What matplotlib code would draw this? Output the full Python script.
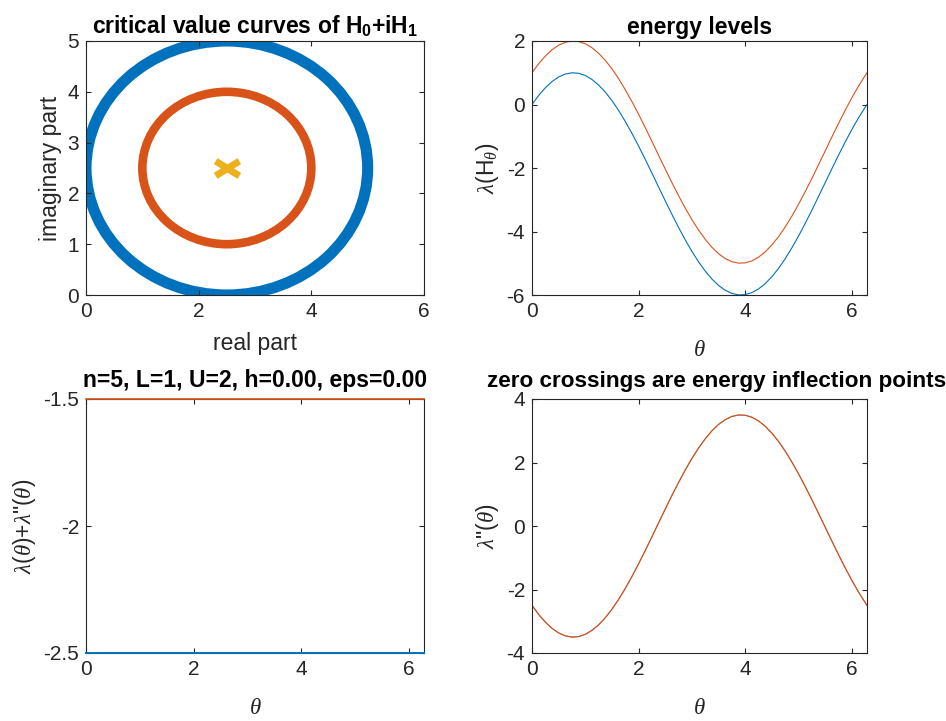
import matplotlib
matplotlib.use('Agg')
import matplotlib.pyplot as plt
from matplotlib.patches import Circle
from matplotlib.path import Path

plt.rcParams['font.family'] = ['Liberation Sans', 'DejaVu Sans']
plt.rcParams['mathtext.fontset'] = 'custom'
plt.rcParams['mathtext.rm'] = 'Liberation Sans'
plt.rcParams['mathtext.it'] = 'Liberation Serif:italic'
plt.rcParams['mathtext.bf'] = 'Liberation Sans:bold'
plt.rcParams['axes.unicode_minus'] = False

# critical value curves of H0 + iH1: circles in the complex plane
ring_re = [2.5, 2.5]      # centre, real part
ring_im = [2.5, 2.5]      # centre, imaginary part
ring_radius = [2.5, 1.5]
centre_re = [2.5]
centre_im = [2.5]

theta = [0.000, 0.125, 0.250, 0.375, 0.500, 0.625, 0.750, 0.875, 1.000, 1.125, 1.250, 1.375, 1.500,
         1.625, 1.750, 1.875, 2.000, 2.125, 2.250, 2.375, 2.500, 2.625, 2.750, 2.875, 3.000, 3.125,
         3.250, 3.375, 3.500, 3.625, 3.750, 3.875, 4.000, 4.125, 4.250, 4.375, 4.500, 4.625, 4.750,
         4.875, 5.000, 5.125, 5.250, 5.375, 5.500, 5.625, 5.750, 5.875, 6.000, 6.125, 6.250, 6.2832]
level1 = [0.000, 0.286, 0.526, 0.723, 0.868, 0.960, 0.999, 0.983, 0.913, 0.788, 0.612, 0.390, 0.122,
          -0.189, -0.534, -0.911, -1.311, -1.732, -2.163, -2.601, -3.035, -3.463, -3.874, -4.266,
          -4.628, -4.958, -5.249, -5.498, -5.701, -5.852, -5.951, -5.997, -5.988, -5.925, -5.808,
          -5.639, -5.423, -5.161, -4.855, -4.513, -4.141, -3.742, -3.326, -2.894, -2.459, -2.021,
          -1.594, -1.178, -0.786, -0.418, -0.085, 0.000]
level2 = [1.000, 1.286, 1.526, 1.723, 1.868, 1.960, 1.999, 1.983, 1.913, 1.788, 1.612, 1.390, 1.122,
          0.811, 0.466, 0.089, -0.311, -0.732, -1.163, -1.601, -2.035, -2.463, -2.874, -3.266,
          -3.628, -3.958, -4.249, -4.498, -4.701, -4.852, -4.951, -4.997, -4.988, -4.925, -4.808,
          -4.639, -4.423, -4.161, -3.855, -3.513, -3.141, -2.742, -2.326, -1.894, -1.459, -1.021,
          -0.594, -0.178, 0.214, 0.582, 0.915, 1.000]
# second derivative (identical for both levels)
d2_1 = [-2.500, -2.786, -3.026, -3.223, -3.368, -3.460, -3.499, -3.483, -3.413, -3.288, -3.112,
        -2.890, -2.622, -2.311, -1.966, -1.589, -1.189, -0.768, -0.337, 0.101, 0.535, 0.963, 1.374,
        1.766, 2.128, 2.458, 2.749, 2.998, 3.201, 3.352, 3.451, 3.497, 3.488, 3.425, 3.308, 3.139,
        2.923, 2.661, 2.355, 2.013, 1.641, 1.242, 0.826, 0.394, -0.041, -0.479, -0.906, -1.322,
        -1.714, -2.082, -2.415, -2.500]
d2_2 = list(d2_1)
# lambda + lambda''
sum_1 = [-2.5] * len(theta)
sum_2 = [-1.5] * len(theta)

blue = '#0072BD'
red = '#D95319'
yellow = '#EDB120'
axcol = '#262626'

fig = plt.figure(figsize=(9.46, 7.21), dpi=100)
W, H = 946, 721


def make_ax(x0, x1, y0, y1):
    ax = fig.add_axes([x0 / W, 1 - y1 / H, (x1 - x0) / W, (y1 - y0) / H])
    for s in ax.spines.values():
        s.set_color(axcol)
        s.set_linewidth(0.8)
    ax.tick_params(direction='in', length=3.5, width=0.8, top=True, right=True,
                   labelsize=15, colors=axcol, pad=5)
    return ax


ax1 = make_ax(86, 424, 41, 295)
ax2 = make_ax(532, 867, 41, 295)
ax3 = make_ax(86, 424, 399, 653)
ax4 = make_ax(532, 867, 399, 653)

# top left
ring_cols = [blue, red]
ring_lw = [8, 6.2]
for cx, cy, r, c, lw in zip(ring_re, ring_im, ring_radius, ring_cols, ring_lw):
    ax1.add_patch(Circle((cx, cy), r, fill=False, edgecolor=c, lw=lw))
wide_x = Path([(-1.6, -1), (1.6, 1), (-1.6, 1), (1.6, -1)],
              [Path.MOVETO, Path.LINETO, Path.MOVETO, Path.LINETO])
ax1.plot(centre_re, centre_im, ls='none', marker=wide_x, ms=17, mew=5,
         mec=yellow, mfc='none')
ax1.set_xlim(0, 6)
ax1.set_ylim(0, 5)
ax1.set_xticks([0, 2, 4, 6])
ax1.set_yticks([0, 1, 2, 3, 4, 5])
ax1.set_xlabel('real part', fontsize=16.5, color=axcol, labelpad=8)
ax1.set_ylabel('imaginary part', fontsize=16.5, color=axcol, labelpad=4)
ax1.set_title(r'critical value curves of H$_\mathbf{0}$+iH$_\mathbf{1}$',
              fontsize=16.5, fontweight='bold', pad=5)

# top right
ax2.plot(theta, level1, color=blue, lw=0.8)
ax2.plot(theta, level2, color=red, lw=0.8)
ax2.set_xlim(0, 6.2832)
ax2.set_ylim(-6, 2)
ax2.set_xticks([0, 2, 4, 6])
ax2.set_yticks([-6, -4, -2, 0, 2])
ax2.set_xlabel(r'$\theta$', fontsize=16.5, color=axcol, labelpad=12)
ax2.set_ylabel(r'$\lambda$(H$_\theta$)', fontsize=16.5, color=axcol, labelpad=4)
ax2.set_title('energy levels', fontsize=16.5, fontweight='bold', pad=5)

# bottom left
ax3.plot(theta, sum_1, color=blue, lw=1.4, clip_on=False, zorder=5)
ax3.plot(theta, sum_2, color=red, lw=1.2, clip_on=False, zorder=5)
ax3.set_xlim(0, 6.2832)
ax3.set_ylim(-2.5, -1.5)
ax3.set_xticks([0, 2, 4, 6])
ax3.set_yticks([-2.5, -2, -1.5])
ax3.set_yticklabels(['-2.5', '-2', '-1.5'])
ax3.set_xlabel(r'$\theta$', fontsize=16.5, color=axcol, labelpad=12)
ax3.set_ylabel(r'$\lambda$($\theta$)+$\lambda$"($\theta$)', fontsize=16.5, color=axcol, labelpad=4)
ax3.set_title('n=5, L=1, U=2, h=0.00, eps=0.00', fontsize=16.5, fontweight='bold', pad=9)

# bottom right
ax4.plot(theta, d2_1, color=blue, lw=0.5)
ax4.plot(theta, d2_2, color=red, lw=0.9)
ax4.set_xlim(0, 6.2832)
ax4.set_ylim(-4, 4)
ax4.set_xticks([0, 2, 4, 6])
ax4.set_yticks([-4, -2, 0, 2, 4])
ax4.set_xlabel(r'$\theta$', fontsize=16.5, color=axcol, labelpad=12)
ax4.set_ylabel(r'$\lambda$"($\theta$)', fontsize=16.5, color=axcol, labelpad=4)
ax4.set_title('zero crossings are energy inflection points', fontsize=16.2,
              fontweight='bold', pad=9, x=0.55)

fig.savefig('out.png', dpi=100)
